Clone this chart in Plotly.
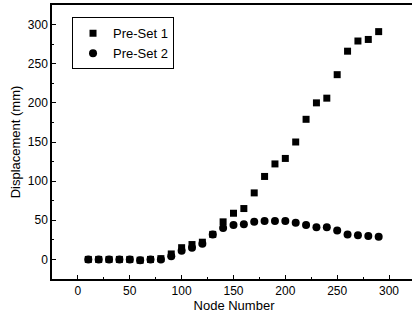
import plotly.graph_objects as go

nodes = [10, 20, 30, 40, 50, 60, 70, 80, 90, 100, 110, 120, 130, 140, 150,
         160, 170, 180, 190, 200, 210, 220, 230, 240, 250, 260, 270, 280, 290]
preset1 = [0, 0, 0, 0, 0, -1, 0, 1, 7, 15, 19, 22, 32, 48, 59,
           65, 85, 106, 122, 129, 150, 179, 200, 206, 236, 266, 279, 281, 291]
preset2 = [0, 0, 0, 0, 0, -1, 0, 0, 4, 11, 15, 20, 32, 40, 44,
           45, 48, 49, 49, 49, 47, 44, 41, 41, 37, 32, 31, 30, 29]

font = "Liberation Sans, Arial, sans-serif"

fig = go.Figure()
fig.add_trace(go.Scatter(x=nodes, y=preset1, mode="markers", name="Pre-Set 1",
                         marker=dict(symbol="square", size=7, color="black")))
fig.add_trace(go.Scatter(x=nodes, y=preset2, mode="markers", name="Pre-Set 2",
                         marker=dict(symbol="circle", size=8, color="black")))

fig.update_layout(
    width=416, height=320,
    margin=dict(l=52, r=0, t=5, b=41, autoexpand=False),
    paper_bgcolor="white", plot_bgcolor="white",
    font=dict(family=font, size=12, color="black"),
    showlegend=True,
    legend=dict(x=0.055, y=0.955, xanchor="left", yanchor="top",
                bordercolor="black", borderwidth=1, bgcolor="white",
                font=dict(size=13), tracegroupgap=0),
    xaxis=dict(range=[-25, 326], tickvals=[0, 50, 100, 150, 200, 250, 300],
               showline=True, linecolor="black", linewidth=1.5, mirror=True,
               ticks="inside", ticklen=4, tickcolor="black",
               minor=dict(ticks="inside", ticklen=2, dtick=25, tickcolor="black"),
               showgrid=False, zeroline=False, automargin=False,
               title=dict(text="Node Number", font=dict(size=13), standoff=4)),
    yaxis=dict(range=[-25, 325], tickvals=[0, 50, 100, 150, 200, 250, 300],
               showline=True, linecolor="black", linewidth=1.5,
               ticks="inside", ticklen=4, tickcolor="black",
               minor=dict(ticks="inside", ticklen=2, dtick=25, tickcolor="black"),
               showgrid=False, zeroline=False, automargin=False,
               title=dict(text="Displacement (mm)", font=dict(size=13), standoff=4)),
)

fig.write_html("out.html", config={"displayModeBar": False},
               post_script="document.body.style.margin='0';document.body.style.overflow='hidden';document.documentElement.style.overflow='hidden';")
